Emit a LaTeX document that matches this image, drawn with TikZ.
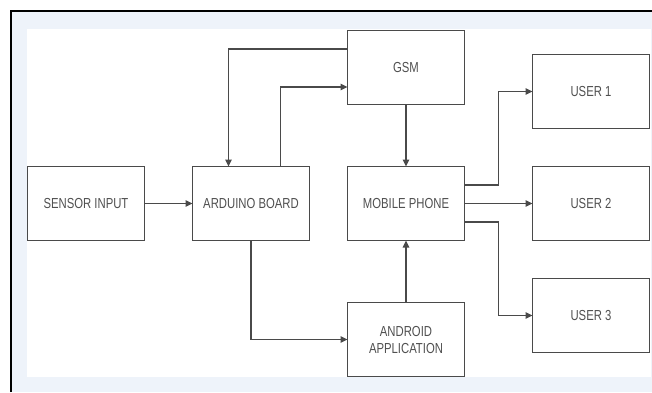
\documentclass[tikz,border=0pt]{standalone}
\usepackage{fontspec}
\newfontfamily\boxfont[FakeStretch=0.78]{Liberation Sans}
\usepackage{tikz}
\usetikzlibrary{positioning, arrows.meta, calc}
\usepackage{xcolor}
\definecolor{framebg}{HTML}{EEF3FA}
\definecolor{linegray}{HTML}{4A4A4A}
\definecolor{textgray}{HTML}{505050}

\begin{document}
\begin{tikzpicture}[
  x=1pt, y=-1pt,
  font=\boxfont\fontsize{14.5}{17}\selectfont,
  block/.style={draw=linegray, line width=1.5pt, minimum width=117pt, minimum height=74pt,
                align=center, text=textgray, fill=white, inner sep=2pt, outer sep=0pt},
  arr/.style={-{Triangle[length=7pt, width=6.5pt]}, line width=1.5pt, draw=linegray},
]
  \useasboundingbox (0,0) rectangle (652,392);
  % frame and page
  \fill[framebg] (10,10) rectangle (652,392);
  \draw[black, line width=2pt] (10.5,392) -- (10.5,10.5) -- (652,10.5);
  \fill[white] (27,29) rectangle (651,377);

  \node[block] (sensor) at (86,203.5) {SENSOR INPUT};
  \node[block, right=48pt of sensor]  (arduino) {ARDUINO BOARD};
  \node[block, right=38pt of arduino] (mobile)  {MOBILE PHONE};
  \node[block, above=62pt of mobile]  (gsm)     {GSM};
  \node[block, below=62pt of mobile]  (android) {ANDROID\\APPLICATION};
  \node[block, right=68pt of mobile]  (user2)   {USER 2};
  \node[block, above=38pt of user2]   (user1)   {USER 1};
  \node[block, below=38pt of user2]   (user3)   {USER 3};

  \draw[arr] (sensor) -- (arduino);
  \draw[arr] ([yshift=18.5pt]gsm.west) -| ([xshift=-22.5pt]arduino.north);
  \draw[arr] ([xshift=29.5pt]arduino.north) |- ([yshift=-19.5pt]gsm.west);
  \draw[arr] (gsm) -- (mobile);
  \draw[arr] (arduino.south) |- (android.west);
  \draw[arr] (android) -- (mobile);
  \draw[arr] ([yshift=18.5pt]mobile.east) -- ++(34,0) |- (user1.west);
  \draw[arr] (mobile) -- (user2);
  \draw[arr] ([yshift=-18.5pt]mobile.east) -- ++(34,0) |- (user3.west);
\end{tikzpicture}
\end{document}
